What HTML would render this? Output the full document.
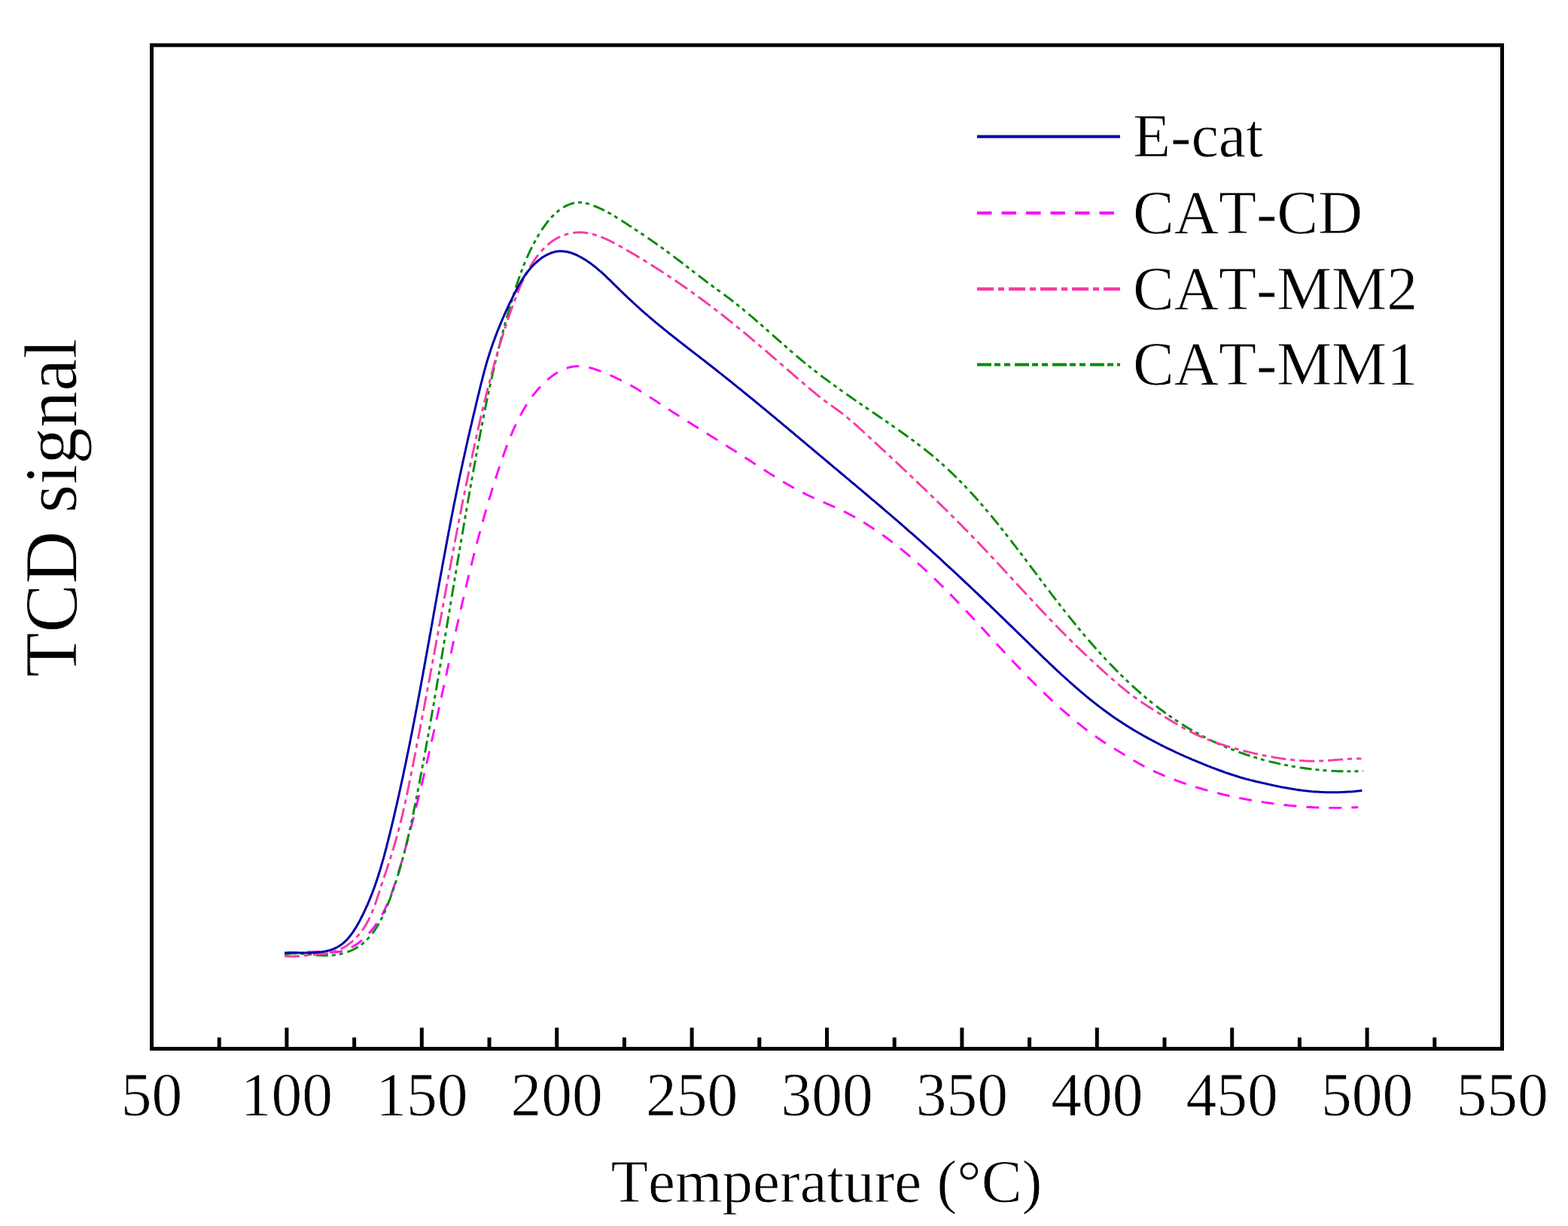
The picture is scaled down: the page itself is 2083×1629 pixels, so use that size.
<!DOCTYPE html>
<html><head><meta charset="utf-8"><title>TCD signal vs Temperature</title>
<style>html,body{margin:0;padding:0;background:#fff;overflow:hidden}svg{display:block}text{fill:#000;stroke:#fff;stroke-width:0.8px;paint-order:fill}</style>
</head><body>
<svg width="2083" height="1629" viewBox="0 0 2083 1629" font-family='"Liberation Serif", "Times New Roman", serif' style="font-kerning:none"><rect x="0" y="0" width="2083" height="1629" fill="#fff"/>
<path d="M378.0,1267.0 L380.8,1266.9 L383.7,1266.8 L386.6,1266.6 L389.5,1266.4 L392.5,1266.2 L395.5,1266.0 L398.6,1265.7 L401.6,1265.5 L404.7,1265.3 L407.8,1265.1 L410.9,1265.0 L414.0,1264.9 L417.1,1264.8 L420.2,1264.8 L423.3,1264.8 L426.4,1264.9 L429.5,1265.1 L432.5,1265.2 L435.6,1265.3 L438.6,1265.3 L441.6,1265.3 L444.6,1265.2 L447.5,1264.9 L450.4,1264.5 L453.3,1264.0 L456.1,1263.3 L458.9,1262.4 L461.6,1261.3 L464.3,1260.2 L466.9,1258.8 L469.5,1257.4 L472.0,1255.8 L474.5,1254.2 L476.9,1252.4 L479.3,1250.5 L481.6,1248.6 L483.9,1246.6 L486.1,1244.5 L488.2,1242.3 L490.2,1240.1 L492.2,1237.8 L494.2,1235.5 L496.0,1233.2 L497.8,1230.8 L499.5,1228.4 L501.2,1226.0 L502.8,1223.5 L504.4,1221.0 L505.8,1218.5 L507.3,1216.0 L508.7,1213.4 L510.0,1210.8 L511.3,1208.2 L512.6,1205.5 L513.8,1202.9 L515.0,1200.2 L516.2,1197.5 L517.3,1194.7 L518.4,1192.0 L519.4,1189.2 L520.4,1186.4 L521.5,1183.6 L522.4,1180.8 L523.4,1178.0 L524.4,1175.1 L525.3,1172.3 L526.2,1169.4 L527.1,1166.5 L528.0,1163.6 L528.9,1160.7 L529.8,1157.8 L530.7,1154.9 L531.5,1152.0 L532.4,1149.1 L533.2,1146.2 L534.1,1143.2 L534.9,1140.3 L535.7,1137.4 L536.5,1134.4 L537.3,1131.5 L538.2,1128.6 L539.0,1125.6 L539.8,1122.7 L540.6,1119.8 L541.3,1116.9 L542.1,1113.9 L542.9,1111.0 L543.7,1108.1 L544.5,1105.1 L545.2,1102.2 L546.0,1099.3 L546.8,1096.4 L547.5,1093.4 L548.3,1090.5 L549.0,1087.6 L549.8,1084.7 L550.5,1081.7 L551.3,1078.8 L552.0,1075.9 L552.7,1072.9 L553.5,1070.0 L554.2,1067.1 L554.9,1064.2 L555.6,1061.2 L556.3,1058.3 L557.1,1055.4 L557.8,1052.5 L558.5,1049.5 L559.2,1046.6 L559.9,1043.7 L560.6,1040.8 L561.3,1037.8 L562.0,1034.9 L562.7,1032.0 L563.3,1029.1 L564.0,1026.2 L564.7,1023.2 L565.4,1020.3 L566.1,1017.4 L566.7,1014.5 L567.4,1011.5 L568.1,1008.6 L568.8,1005.7 L569.4,1002.8 L570.1,999.8 L570.8,996.9 L571.4,994.0 L572.1,991.1 L572.7,988.2 L573.4,985.2 L574.0,982.3 L574.7,979.4 L575.4,976.5 L576.0,973.5 L576.7,970.6 L577.3,967.7 L577.9,964.8 L578.6,961.8 L579.2,958.9 L579.9,956.0 L580.5,953.1 L581.2,950.2 L581.8,947.2 L582.4,944.3 L583.1,941.4 L583.7,938.5 L584.4,935.5 L585.0,932.6 L585.6,929.7 L586.3,926.8 L586.9,923.9 L587.5,920.9 L588.2,918.0 L588.8,915.1 L589.5,912.2 L590.1,909.2 L590.7,906.3 L591.4,903.4 L592.0,900.5 L592.6,897.6 L593.3,894.6 L593.9,891.7 L594.5,888.8 L595.2,885.9 L595.8,882.9 L596.5,880.0 L597.1,877.1 L597.7,874.2 L598.4,871.2 L599.0,868.3 L599.7,865.4 L600.3,862.5 L600.9,859.5 L601.6,856.6 L602.2,853.7 L602.9,850.8 L603.5,847.8 L604.2,844.9 L604.8,842.0 L605.5,839.1 L606.1,836.1 L606.8,833.2 L607.4,830.3 L608.1,827.4 L608.8,824.4 L609.4,821.5 L610.1,818.6 L610.8,815.7 L611.4,812.7 L612.1,809.8 L612.8,806.9 L613.4,804.0 L614.1,801.0 L614.8,798.1 L615.5,795.2 L616.2,792.2 L616.8,789.3 L617.5,786.4 L618.2,783.5 L618.9,780.5 L619.6,777.6 L620.3,774.7 L621.0,771.8 L621.7,768.8 L622.4,765.9 L623.1,763.0 L623.8,760.0 L624.6,757.1 L625.3,754.2 L626.0,751.3 L626.7,748.3 L627.5,745.4 L628.2,742.5 L628.9,739.6 L629.7,736.7 L630.4,733.7 L631.2,730.8 L631.9,727.9 L632.7,725.0 L633.4,722.1 L634.2,719.2 L635.0,716.2 L635.7,713.3 L636.5,710.4 L637.3,707.5 L638.1,704.6 L638.9,701.7 L639.7,698.8 L640.5,695.9 L641.3,693.0 L642.1,690.1 L642.9,687.2 L643.7,684.3 L644.6,681.4 L645.4,678.5 L646.2,675.6 L647.1,672.8 L647.9,669.9 L648.8,667.0 L649.6,664.1 L650.5,661.2 L651.4,658.4 L652.2,655.5 L653.1,652.6 L654.0,649.8 L654.9,646.9 L655.8,644.0 L656.7,641.2 L657.6,638.3 L658.5,635.5 L659.4,632.6 L660.4,629.8 L661.3,626.9 L662.2,624.1 L663.2,621.3 L664.1,618.4 L665.1,615.6 L666.1,612.8 L667.0,609.9 L668.0,607.1 L669.0,604.3 L670.0,601.5 L671.0,598.7 L672.0,595.9 L673.1,593.1 L674.1,590.3 L675.2,587.5 L676.3,584.7 L677.4,582.0 L678.5,579.2 L679.7,576.5 L680.8,573.7 L682.0,571.0 L683.2,568.3 L684.5,565.6 L685.8,562.9 L687.1,560.2 L688.4,557.5 L689.8,554.9 L691.1,552.2 L692.6,549.6 L694.0,547.0 L695.5,544.3 L697.1,541.8 L698.6,539.2 L700.3,536.6 L701.9,534.1 L703.6,531.6 L705.4,529.1 L707.1,526.6 L709.0,524.2 L710.9,521.8 L712.8,519.5 L714.8,517.2 L716.8,514.9 L718.9,512.7 L721.1,510.5 L723.3,508.3 L725.5,506.2 L727.8,504.2 L730.2,502.2 L732.6,500.3 L735.1,498.5 L737.6,496.8 L740.2,495.2 L742.8,493.7 L745.4,492.3 L748.0,491.1 L750.7,490.0 L753.5,489.0 L756.2,488.2 L759.0,487.5 L761.8,487.0 L764.6,486.7 L767.5,486.6 L770.3,486.6 L773.2,486.8 L776.0,487.2 L778.9,487.6 L781.8,488.2 L784.7,488.9 L787.6,489.7 L790.4,490.6 L793.3,491.6 L796.2,492.6 L799.0,493.7 L801.9,494.9 L804.7,496.0 L807.5,497.2 L810.3,498.4 L813.0,499.7 L815.8,500.9 L818.5,502.2 L821.2,503.5 L823.9,504.8 L826.6,506.1 L829.2,507.5 L831.9,508.8 L834.5,510.2 L837.1,511.7 L839.7,513.1 L842.3,514.6 L844.9,516.1 L847.5,517.6 L850.0,519.2 L852.6,520.8 L855.2,522.4 L857.7,524.0 L860.2,525.6 L862.8,527.3 L865.3,528.9 L867.8,530.6 L870.4,532.3 L872.9,533.9 L875.4,535.6 L878.0,537.3 L880.5,538.9 L883.0,540.5 L885.5,542.2 L888.1,543.8 L890.6,545.4 L893.1,547.1 L895.6,548.7 L898.2,550.3 L900.7,551.9 L903.2,553.5 L905.7,555.1 L908.3,556.7 L910.8,558.3 L913.3,559.9 L915.8,561.5 L918.4,563.1 L920.9,564.7 L923.4,566.2 L926.0,567.8 L928.5,569.4 L931.0,571.0 L933.5,572.6 L936.1,574.1 L938.6,575.7 L941.1,577.3 L943.7,578.9 L946.2,580.4 L948.7,582.0 L951.2,583.6 L953.8,585.2 L956.3,586.8 L958.8,588.3 L961.4,589.9 L963.9,591.5 L966.4,593.1 L968.9,594.7 L971.5,596.3 L974.0,597.9 L976.5,599.5 L979.1,601.1 L981.6,602.7 L984.1,604.3 L986.7,605.9 L989.2,607.6 L991.7,609.2 L994.2,610.8 L996.8,612.5 L999.3,614.1 L1001.8,615.8 L1004.4,617.4 L1006.9,619.0 L1009.5,620.7 L1012.0,622.3 L1014.5,624.0 L1017.1,625.6 L1019.6,627.2 L1022.2,628.9 L1024.7,630.5 L1027.3,632.1 L1029.9,633.7 L1032.4,635.3 L1035.0,636.9 L1037.6,638.4 L1040.2,640.0 L1042.7,641.5 L1045.3,643.1 L1047.9,644.6 L1050.5,646.1 L1053.2,647.5 L1055.8,649.0 L1058.4,650.4 L1061.0,651.8 L1063.7,653.2 L1066.3,654.6 L1069.0,655.9 L1071.7,657.2 L1074.4,658.5 L1077.0,659.8 L1079.7,661.0 L1082.4,662.2 L1085.1,663.4 L1087.9,664.6 L1090.6,665.8 L1093.3,667.0 L1096.0,668.2 L1098.7,669.4 L1101.5,670.6 L1104.2,671.8 L1106.9,673.0 L1109.6,674.2 L1112.3,675.5 L1115.1,676.7 L1117.8,678.0 L1120.5,679.3 L1123.2,680.6 L1125.9,682.0 L1128.5,683.4 L1131.2,684.8 L1133.9,686.3 L1136.6,687.8 L1139.2,689.3 L1141.8,690.8 L1144.5,692.4 L1147.1,694.0 L1149.7,695.6 L1152.2,697.2 L1154.8,698.9 L1157.4,700.5 L1159.9,702.2 L1162.4,703.9 L1164.9,705.6 L1167.4,707.3 L1169.9,709.0 L1172.4,710.8 L1174.8,712.5 L1177.3,714.3 L1179.7,716.1 L1182.1,717.9 L1184.5,719.7 L1186.9,721.5 L1189.3,723.3 L1191.6,725.2 L1194.0,727.0 L1196.3,728.9 L1198.6,730.8 L1201.0,732.7 L1203.3,734.6 L1205.6,736.5 L1207.8,738.4 L1210.1,740.4 L1212.4,742.3 L1214.6,744.3 L1216.9,746.2 L1219.1,748.2 L1221.3,750.2 L1223.6,752.2 L1225.8,754.2 L1228.0,756.2 L1230.2,758.2 L1232.3,760.3 L1234.5,762.3 L1236.7,764.4 L1238.9,766.4 L1241.0,768.5 L1243.1,770.5 L1245.3,772.6 L1247.4,774.7 L1249.5,776.8 L1251.7,778.9 L1253.8,781.0 L1255.9,783.1 L1258.0,785.2 L1260.1,787.3 L1262.2,789.5 L1264.3,791.6 L1266.3,793.7 L1268.4,795.9 L1270.5,798.0 L1272.6,800.2 L1274.6,802.4 L1276.7,804.5 L1278.7,806.7 L1280.8,808.9 L1282.8,811.0 L1284.9,813.2 L1286.9,815.4 L1289.0,817.6 L1291.0,819.8 L1293.1,822.0 L1295.1,824.1 L1297.1,826.3 L1299.2,828.5 L1301.2,830.7 L1303.2,832.9 L1305.3,835.1 L1307.3,837.3 L1309.3,839.5 L1311.4,841.8 L1313.4,844.0 L1315.4,846.2 L1317.4,848.4 L1319.5,850.6 L1321.5,852.8 L1323.5,855.0 L1325.6,857.2 L1327.6,859.4 L1329.7,861.6 L1331.7,863.8 L1333.7,866.0 L1335.8,868.2 L1337.8,870.4 L1339.9,872.6 L1341.9,874.8 L1344.0,877.0 L1346.1,879.2 L1348.1,881.4 L1350.2,883.6 L1352.3,885.7 L1354.4,887.9 L1356.4,890.1 L1358.5,892.3 L1360.6,894.4 L1362.7,896.6 L1364.8,898.7 L1366.9,900.9 L1369.0,903.1 L1371.2,905.2 L1373.3,907.3 L1375.4,909.5 L1377.6,911.6 L1379.7,913.7 L1381.9,915.8 L1384.0,917.9 L1386.2,920.0 L1388.4,922.1 L1390.6,924.2 L1392.8,926.3 L1395.0,928.4 L1397.2,930.5 L1399.4,932.5 L1401.6,934.6 L1403.9,936.6 L1406.1,938.7 L1408.4,940.7 L1410.6,942.7 L1412.9,944.7 L1415.2,946.7 L1417.5,948.7 L1419.8,950.7 L1422.1,952.6 L1424.4,954.6 L1426.7,956.5 L1429.1,958.4 L1431.4,960.3 L1433.8,962.2 L1436.1,964.1 L1438.5,965.9 L1440.9,967.8 L1443.3,969.6 L1445.7,971.4 L1448.1,973.2 L1450.5,975.0 L1452.9,976.7 L1455.4,978.4 L1457.8,980.2 L1460.2,981.8 L1462.7,983.5 L1465.2,985.2 L1467.6,986.8 L1470.1,988.4 L1472.6,990.0 L1475.1,991.5 L1477.6,993.1 L1480.1,994.6 L1482.7,996.2 L1485.2,997.7 L1487.7,999.3 L1490.3,1000.8 L1492.8,1002.4 L1495.4,1004.0 L1498.0,1005.6 L1500.6,1007.2 L1503.2,1008.7 L1505.8,1010.3 L1508.4,1011.8 L1511.0,1013.3 L1513.6,1014.8 L1516.2,1016.2 L1518.9,1017.6 L1521.5,1019.0 L1524.2,1020.4 L1526.9,1021.7 L1529.5,1023.0 L1532.2,1024.3 L1534.9,1025.6 L1537.6,1026.8 L1540.3,1028.0 L1543.0,1029.2 L1545.7,1030.4 L1548.5,1031.5 L1551.2,1032.6 L1553.9,1033.7 L1556.7,1034.8 L1559.5,1035.9 L1562.2,1036.9 L1565.0,1037.9 L1567.8,1038.9 L1570.6,1039.9 L1573.4,1040.9 L1576.2,1041.8 L1579.0,1042.8 L1581.8,1043.7 L1584.7,1044.6 L1587.5,1045.5 L1590.3,1046.3 L1593.2,1047.2 L1596.1,1048.0 L1598.9,1048.9 L1601.8,1049.7 L1604.7,1050.5 L1607.6,1051.3 L1610.5,1052.0 L1613.4,1052.8 L1616.3,1053.5 L1619.2,1054.2 L1622.1,1055.0 L1625.0,1055.7 L1628.0,1056.3 L1630.9,1057.0 L1633.9,1057.7 L1636.8,1058.3 L1639.8,1059.0 L1642.7,1059.6 L1645.7,1060.2 L1648.6,1060.8 L1651.6,1061.3 L1654.6,1061.9 L1657.6,1062.5 L1660.6,1063.0 L1663.5,1063.5 L1666.5,1064.0 L1669.5,1064.5 L1672.5,1065.0 L1675.5,1065.5 L1678.5,1065.9 L1681.5,1066.4 L1684.5,1066.8 L1687.5,1067.2 L1690.5,1067.6 L1693.5,1068.0 L1696.5,1068.4 L1699.5,1068.8 L1702.6,1069.1 L1705.6,1069.5 L1708.6,1069.8 L1711.6,1070.1 L1714.6,1070.4 L1717.6,1070.7 L1720.6,1071.0 L1723.6,1071.3 L1726.7,1071.5 L1729.7,1071.8 L1732.7,1072.0 L1735.7,1072.2 L1738.7,1072.4 L1741.7,1072.5 L1744.7,1072.7 L1747.7,1072.9 L1750.7,1073.0 L1753.7,1073.1 L1756.7,1073.2 L1759.7,1073.3 L1762.7,1073.3 L1765.7,1073.4 L1768.7,1073.4 L1771.6,1073.4 L1774.6,1073.4 L1777.6,1073.4 L1780.6,1073.4 L1783.5,1073.3 L1786.5,1073.3 L1789.4,1073.2 L1792.4,1073.1 L1795.3,1073.0 L1798.3,1072.8 L1801.2,1072.7 L1804.2,1072.5" fill="none" stroke="#ff00ff" stroke-width="2.9" stroke-linejoin="round" stroke-dasharray="17,13"/>
<path d="M378.0,1268.0 L380.9,1267.6 L383.8,1267.2 L386.8,1267.0 L389.7,1266.9 L392.7,1266.9 L395.6,1267.0 L398.6,1267.1 L401.6,1267.3 L404.6,1267.6 L407.6,1267.8 L410.7,1268.1 L413.7,1268.4 L416.7,1268.7 L419.8,1269.0 L422.8,1269.2 L425.9,1269.4 L429.0,1269.5 L432.1,1269.6 L435.1,1269.5 L438.2,1269.4 L441.3,1269.2 L444.4,1268.9 L447.4,1268.4 L450.5,1267.9 L453.5,1267.3 L456.4,1266.5 L459.3,1265.7 L462.2,1264.7 L465.0,1263.6 L467.7,1262.5 L470.3,1261.2 L472.9,1259.8 L475.3,1258.3 L477.7,1256.8 L480.0,1255.1 L482.3,1253.3 L484.4,1251.5 L486.5,1249.5 L488.5,1247.5 L490.4,1245.4 L492.3,1243.3 L494.1,1241.0 L495.9,1238.7 L497.6,1236.4 L499.2,1233.9 L500.8,1231.5 L502.3,1228.9 L503.8,1226.3 L505.2,1223.7 L506.6,1221.0 L508.0,1218.3 L509.3,1215.6 L510.5,1212.8 L511.8,1210.0 L513.0,1207.2 L514.1,1204.4 L515.3,1201.5 L516.4,1198.6 L517.5,1195.8 L518.6,1192.9 L519.6,1190.0 L520.7,1187.1 L521.7,1184.2 L522.7,1181.3 L523.7,1178.4 L524.6,1175.5 L525.6,1172.6 L526.5,1169.7 L527.4,1166.9 L528.3,1164.0 L529.2,1161.1 L530.1,1158.2 L530.9,1155.3 L531.8,1152.3 L532.6,1149.4 L533.4,1146.5 L534.2,1143.6 L535.0,1140.7 L535.8,1137.8 L536.6,1134.9 L537.3,1132.0 L538.1,1129.1 L538.8,1126.2 L539.5,1123.3 L540.2,1120.3 L540.9,1117.4 L541.6,1114.5 L542.3,1111.6 L543.0,1108.7 L543.7,1105.7 L544.3,1102.8 L545.0,1099.9 L545.6,1097.0 L546.3,1094.1 L546.9,1091.1 L547.5,1088.2 L548.1,1085.3 L548.7,1082.3 L549.3,1079.4 L549.9,1076.5 L550.5,1073.6 L551.1,1070.6 L551.7,1067.7 L552.3,1064.8 L552.9,1061.8 L553.5,1058.9 L554.0,1056.0 L554.6,1053.0 L555.2,1050.1 L555.7,1047.2 L556.3,1044.2 L556.9,1041.3 L557.4,1038.3 L558.0,1035.4 L558.5,1032.5 L559.1,1029.5 L559.7,1026.6 L560.2,1023.6 L560.8,1020.7 L561.3,1017.7 L561.9,1014.8 L562.4,1011.8 L563.0,1008.9 L563.5,1006.0 L564.0,1003.0 L564.6,1000.1 L565.1,997.1 L565.7,994.2 L566.2,991.2 L566.7,988.3 L567.3,985.3 L567.8,982.4 L568.3,979.4 L568.9,976.5 L569.4,973.5 L569.9,970.6 L570.4,967.6 L571.0,964.6 L571.5,961.7 L572.0,958.7 L572.5,955.8 L573.1,952.8 L573.6,949.9 L574.1,946.9 L574.6,944.0 L575.1,941.0 L575.6,938.0 L576.2,935.1 L576.7,932.1 L577.2,929.2 L577.7,926.2 L578.2,923.3 L578.7,920.3 L579.2,917.3 L579.7,914.4 L580.2,911.4 L580.7,908.5 L581.2,905.5 L581.8,902.5 L582.3,899.6 L582.8,896.6 L583.3,893.7 L583.8,890.7 L584.3,887.7 L584.8,884.8 L585.3,881.8 L585.8,878.9 L586.3,875.9 L586.8,872.9 L587.3,870.0 L587.8,867.0 L588.3,864.1 L588.8,861.1 L589.3,858.1 L589.7,855.2 L590.2,852.2 L590.7,849.2 L591.2,846.3 L591.7,843.3 L592.2,840.4 L592.7,837.4 L593.2,834.4 L593.7,831.5 L594.2,828.5 L594.7,825.6 L595.2,822.6 L595.7,819.6 L596.2,816.7 L596.7,813.7 L597.2,810.7 L597.7,807.8 L598.1,804.8 L598.6,801.9 L599.1,798.9 L599.6,795.9 L600.1,793.0 L600.6,790.0 L601.1,787.1 L601.6,784.1 L602.1,781.1 L602.6,778.2 L603.1,775.2 L603.6,772.3 L604.1,769.3 L604.6,766.3 L605.1,763.4 L605.6,760.4 L606.1,757.5 L606.6,754.5 L607.0,751.5 L607.5,748.6 L608.0,745.6 L608.5,742.6 L609.0,739.7 L609.5,736.7 L610.0,733.8 L610.5,730.8 L611.0,727.8 L611.5,724.9 L612.0,721.9 L612.5,719.0 L613.1,716.0 L613.6,713.1 L614.1,710.1 L614.6,707.1 L615.1,704.2 L615.6,701.2 L616.1,698.3 L616.6,695.3 L617.1,692.3 L617.6,689.4 L618.1,686.4 L618.6,683.5 L619.2,680.5 L619.7,677.5 L620.2,674.6 L620.7,671.6 L621.2,668.7 L621.7,665.7 L622.2,662.8 L622.8,659.8 L623.3,656.8 L623.8,653.9 L624.3,650.9 L624.9,648.0 L625.4,645.0 L625.9,642.1 L626.4,639.1 L627.0,636.1 L627.5,633.2 L628.0,630.2 L628.6,627.3 L629.1,624.3 L629.6,621.4 L630.2,618.4 L630.7,615.5 L631.3,612.5 L631.8,609.5 L632.3,606.6 L632.9,603.6 L633.4,600.7 L634.0,597.7 L634.5,594.8 L635.1,591.8 L635.6,588.9 L636.2,585.9 L636.7,583.0 L637.3,580.0 L637.9,577.1 L638.4,574.1 L639.0,571.2 L639.6,568.2 L640.1,565.3 L640.7,562.3 L641.3,559.4 L641.9,556.4 L642.5,553.5 L643.1,550.5 L643.6,547.6 L644.2,544.6 L644.8,541.7 L645.4,538.7 L646.0,535.8 L646.6,532.9 L647.3,529.9 L647.9,527.0 L648.5,524.0 L649.1,521.1 L649.7,518.2 L650.4,515.2 L651.0,512.3 L651.6,509.4 L652.3,506.4 L652.9,503.5 L653.6,500.6 L654.2,497.6 L654.9,494.7 L655.6,491.8 L656.2,488.9 L656.9,485.9 L657.6,483.0 L658.3,480.1 L659.0,477.2 L659.7,474.3 L660.4,471.4 L661.1,468.4 L661.8,465.5 L662.5,462.6 L663.2,459.7 L664.0,456.8 L664.7,453.9 L665.5,451.0 L666.2,448.1 L667.0,445.2 L667.7,442.3 L668.5,439.4 L669.3,436.5 L670.0,433.6 L670.8,430.7 L671.6,427.8 L672.4,424.9 L673.2,422.1 L674.0,419.2 L674.8,416.3 L675.7,413.4 L676.5,410.5 L677.4,407.7 L678.2,404.8 L679.1,401.9 L679.9,399.0 L680.8,396.2 L681.7,393.3 L682.6,390.5 L683.4,387.6 L684.4,384.7 L685.3,381.9 L686.2,379.0 L687.1,376.2 L688.1,373.4 L689.1,370.5 L690.1,367.7 L691.1,364.9 L692.1,362.1 L693.2,359.3 L694.2,356.5 L695.3,353.7 L696.4,350.9 L697.6,348.1 L698.7,345.4 L699.9,342.6 L701.1,339.9 L702.4,337.2 L703.6,334.4 L704.9,331.7 L706.3,329.0 L707.6,326.4 L709.0,323.7 L710.5,321.0 L711.9,318.4 L713.4,315.7 L715.0,313.1 L716.6,310.5 L718.2,307.9 L719.8,305.4 L721.5,302.8 L723.3,300.3 L725.1,297.9 L726.9,295.4 L728.8,293.1 L730.8,290.8 L732.8,288.5 L734.9,286.4 L737.0,284.3 L739.2,282.3 L741.5,280.4 L743.9,278.6 L746.3,276.9 L748.8,275.3 L751.4,273.9 L754.0,272.6 L756.7,271.5 L759.5,270.5 L762.3,269.8 L765.2,269.3 L768.0,269.0 L770.9,268.9 L773.8,269.2 L776.7,269.7 L779.6,270.4 L782.5,271.2 L785.4,272.2 L788.2,273.2 L791.0,274.3 L793.8,275.4 L796.6,276.7 L799.3,277.9 L802.0,279.3 L804.7,280.7 L807.4,282.1 L810.1,283.6 L812.7,285.1 L815.4,286.6 L818.0,288.2 L820.6,289.8 L823.2,291.4 L825.7,293.1 L828.3,294.7 L830.8,296.4 L833.3,298.0 L835.8,299.7 L838.3,301.3 L840.8,302.9 L843.3,304.6 L845.8,306.2 L848.3,307.9 L850.7,309.5 L853.2,311.1 L855.6,312.8 L858.1,314.4 L860.5,316.1 L862.9,317.7 L865.4,319.4 L867.8,321.1 L870.2,322.8 L872.6,324.5 L875.0,326.2 L877.5,327.9 L879.9,329.7 L882.3,331.4 L884.7,333.2 L887.2,335.0 L889.6,336.8 L892.0,338.6 L894.4,340.4 L896.9,342.3 L899.3,344.1 L901.7,346.0 L904.2,347.8 L906.6,349.7 L909.0,351.6 L911.4,353.5 L913.9,355.3 L916.3,357.2 L918.7,359.1 L921.1,360.9 L923.6,362.8 L926.0,364.7 L928.4,366.5 L930.8,368.4 L933.2,370.2 L935.6,372.0 L938.0,373.9 L940.4,375.7 L942.8,377.5 L945.2,379.2 L947.6,381.0 L950.0,382.7 L952.4,384.5 L954.8,386.2 L957.1,388.0 L959.5,389.7 L961.9,391.4 L964.2,393.2 L966.6,394.9 L968.9,396.7 L971.3,398.5 L973.6,400.3 L975.9,402.1 L978.2,403.9 L980.5,405.7 L982.9,407.6 L985.2,409.5 L987.5,411.4 L989.7,413.3 L992.0,415.2 L994.3,417.1 L996.6,419.0 L998.9,421.0 L1001.2,422.9 L1003.4,424.9 L1005.7,426.9 L1008.0,428.8 L1010.2,430.8 L1012.5,432.8 L1014.8,434.8 L1017.0,436.8 L1019.3,438.8 L1021.5,440.8 L1023.8,442.8 L1026.1,444.9 L1028.3,446.9 L1030.6,448.9 L1032.8,450.9 L1035.1,452.9 L1037.4,454.9 L1039.6,456.9 L1041.9,458.9 L1044.2,460.9 L1046.5,462.9 L1048.7,464.9 L1051.0,466.9 L1053.3,468.8 L1055.6,470.8 L1057.9,472.8 L1060.2,474.7 L1062.5,476.6 L1064.8,478.6 L1067.1,480.5 L1069.4,482.4 L1071.8,484.2 L1074.1,486.1 L1076.4,488.0 L1078.8,489.8 L1081.1,491.7 L1083.5,493.5 L1085.8,495.3 L1088.2,497.2 L1090.5,499.0 L1092.9,500.8 L1095.3,502.6 L1097.7,504.3 L1100.1,506.1 L1102.5,507.9 L1104.9,509.6 L1107.3,511.4 L1109.7,513.1 L1112.1,514.9 L1114.5,516.6 L1116.9,518.4 L1119.4,520.1 L1121.8,521.8 L1124.2,523.5 L1126.7,525.2 L1129.1,527.0 L1131.6,528.7 L1134.0,530.4 L1136.5,532.1 L1138.9,533.8 L1141.4,535.5 L1143.9,537.2 L1146.4,538.9 L1148.8,540.6 L1151.3,542.3 L1153.8,544.0 L1156.3,545.7 L1158.8,547.4 L1161.3,549.1 L1163.8,550.8 L1166.3,552.5 L1168.8,554.2 L1171.3,555.9 L1173.8,557.6 L1176.3,559.3 L1178.8,561.0 L1181.3,562.8 L1183.8,564.5 L1186.3,566.2 L1188.8,568.0 L1191.3,569.7 L1193.8,571.4 L1196.3,573.2 L1198.7,575.0 L1201.2,576.7 L1203.7,578.5 L1206.1,580.3 L1208.6,582.1 L1211.0,583.9 L1213.5,585.7 L1215.9,587.5 L1218.3,589.3 L1220.7,591.1 L1223.1,593.0 L1225.5,594.8 L1227.9,596.7 L1230.2,598.5 L1232.6,600.4 L1234.9,602.3 L1237.2,604.2 L1239.6,606.2 L1241.9,608.1 L1244.1,610.0 L1246.4,612.0 L1248.7,614.0 L1250.9,615.9 L1253.1,617.9 L1255.3,619.9 L1257.5,622.0 L1259.7,624.0 L1261.9,626.0 L1264.0,628.1 L1266.2,630.2 L1268.3,632.2 L1270.4,634.3 L1272.5,636.4 L1274.6,638.5 L1276.7,640.6 L1278.8,642.8 L1280.9,644.9 L1282.9,647.1 L1284.9,649.2 L1287.0,651.4 L1289.0,653.6 L1291.0,655.7 L1293.0,657.9 L1295.0,660.1 L1297.0,662.4 L1299.0,664.6 L1300.9,666.8 L1302.9,669.0 L1304.8,671.3 L1306.8,673.5 L1308.7,675.8 L1310.6,678.1 L1312.5,680.3 L1314.4,682.6 L1316.3,684.9 L1318.2,687.2 L1320.1,689.5 L1322.0,691.8 L1323.9,694.1 L1325.8,696.4 L1327.6,698.8 L1329.5,701.1 L1331.3,703.4 L1333.2,705.8 L1335.0,708.1 L1336.9,710.5 L1338.7,712.8 L1340.6,715.2 L1342.4,717.5 L1344.2,719.9 L1346.0,722.3 L1347.9,724.6 L1349.7,727.0 L1351.5,729.4 L1353.3,731.8 L1355.1,734.2 L1356.9,736.5 L1358.7,738.9 L1360.6,741.3 L1362.4,743.7 L1364.2,746.1 L1366.0,748.5 L1367.8,750.9 L1369.6,753.3 L1371.4,755.7 L1373.2,758.1 L1375.0,760.5 L1376.8,762.9 L1378.6,765.3 L1380.4,767.7 L1382.3,770.2 L1384.1,772.6 L1385.9,775.0 L1387.7,777.4 L1389.5,779.8 L1391.3,782.2 L1393.2,784.6 L1395.0,787.0 L1396.8,789.4 L1398.7,791.8 L1400.5,794.2 L1402.4,796.6 L1404.2,799.0 L1406.1,801.4 L1407.9,803.7 L1409.8,806.1 L1411.7,808.5 L1413.5,810.9 L1415.4,813.3 L1417.3,815.6 L1419.2,818.0 L1421.1,820.4 L1423.0,822.7 L1424.9,825.1 L1426.8,827.4 L1428.7,829.8 L1430.6,832.1 L1432.5,834.5 L1434.5,836.8 L1436.4,839.1 L1438.4,841.4 L1440.3,843.8 L1442.3,846.1 L1444.2,848.4 L1446.2,850.7 L1448.2,852.9 L1450.2,855.2 L1452.1,857.5 L1454.1,859.8 L1456.1,862.0 L1458.2,864.3 L1460.2,866.5 L1462.2,868.7 L1464.2,871.0 L1466.3,873.2 L1468.3,875.4 L1470.4,877.6 L1472.4,879.8 L1474.5,882.0 L1476.6,884.1 L1478.7,886.3 L1480.8,888.4 L1482.9,890.6 L1485.0,892.7 L1487.1,894.8 L1489.2,896.9 L1491.4,899.0 L1493.5,901.1 L1495.7,903.2 L1497.9,905.3 L1500.0,907.3 L1502.2,909.4 L1504.4,911.4 L1506.6,913.4 L1508.8,915.4 L1511.1,917.4 L1513.3,919.4 L1515.5,921.3 L1517.8,923.3 L1520.1,925.2 L1522.3,927.1 L1524.6,929.0 L1526.9,930.9 L1529.2,932.8 L1531.5,934.7 L1533.9,936.5 L1536.2,938.3 L1538.6,940.2 L1540.9,942.0 L1543.3,943.7 L1545.7,945.5 L1548.1,947.3 L1550.5,949.0 L1552.9,950.7 L1555.3,952.4 L1557.8,954.1 L1560.2,955.8 L1562.7,957.4 L1565.2,959.1 L1567.7,960.7 L1570.2,962.3 L1572.7,963.9 L1575.2,965.4 L1577.7,967.0 L1580.3,968.5 L1582.9,970.0 L1585.4,971.5 L1588.0,973.0 L1590.7,974.4 L1593.3,975.8 L1595.9,977.3 L1598.6,978.6 L1601.2,980.0 L1603.9,981.4 L1606.6,982.7 L1609.3,984.0 L1612.0,985.3 L1614.7,986.5 L1617.4,987.8 L1620.2,989.0 L1622.9,990.2 L1625.7,991.4 L1628.5,992.6 L1631.3,993.7 L1634.1,994.8 L1636.9,995.9 L1639.7,997.0 L1642.5,998.1 L1645.4,999.1 L1648.2,1000.2 L1651.1,1001.2 L1653.9,1002.1 L1656.8,1003.1 L1659.7,1004.0 L1662.6,1005.0 L1665.5,1005.9 L1668.4,1006.7 L1671.3,1007.6 L1674.2,1008.4 L1677.1,1009.3 L1680.0,1010.1 L1683.0,1010.8 L1685.9,1011.6 L1688.8,1012.3 L1691.8,1013.0 L1694.7,1013.7 L1697.7,1014.4 L1700.7,1015.1 L1703.6,1015.7 L1706.6,1016.3 L1709.6,1016.9 L1712.6,1017.5 L1715.5,1018.0 L1718.5,1018.5 L1721.5,1019.0 L1724.5,1019.5 L1727.5,1020.0 L1730.5,1020.4 L1733.5,1020.8 L1736.5,1021.3 L1739.4,1021.6 L1742.4,1022.0 L1745.4,1022.3 L1748.4,1022.6 L1751.4,1022.9 L1754.4,1023.2 L1757.4,1023.5 L1760.4,1023.7 L1763.4,1023.9 L1766.4,1024.1 L1769.4,1024.3 L1772.4,1024.4 L1775.4,1024.6 L1778.4,1024.7 L1781.3,1024.8 L1784.3,1024.8 L1787.3,1024.9 L1790.3,1024.9 L1793.2,1024.9 L1796.2,1024.9 L1799.2,1024.8 L1802.1,1024.8 L1805.1,1024.7 L1808.0,1024.6 L1811.0,1024.4" fill="none" stroke="#008c00" stroke-width="2.9" stroke-linejoin="round" stroke-dasharray="16,5,5,5,5,6"/>
<path d="M378.0,1270.0 L380.9,1270.5 L383.8,1270.8 L386.8,1270.9 L389.7,1270.9 L392.7,1270.7 L395.7,1270.5 L398.7,1270.2 L401.7,1269.9 L404.7,1269.6 L407.8,1269.3 L410.8,1269.0 L413.9,1268.7 L416.9,1268.5 L420.0,1268.3 L423.0,1268.0 L426.1,1267.7 L429.1,1267.4 L432.1,1266.9 L435.0,1266.5 L438.0,1265.9 L440.9,1265.2 L443.7,1264.4 L446.5,1263.5 L449.3,1262.5 L452.0,1261.3 L454.7,1259.9 L457.3,1258.5 L459.9,1256.9 L462.4,1255.2 L464.8,1253.4 L467.1,1251.5 L469.4,1249.5 L471.6,1247.5 L473.7,1245.3 L475.7,1243.1 L477.6,1240.9 L479.5,1238.6 L481.2,1236.2 L482.9,1233.8 L484.5,1231.4 L486.0,1228.9 L487.5,1226.3 L488.9,1223.8 L490.2,1221.2 L491.5,1218.5 L492.7,1215.8 L493.8,1213.1 L495.0,1210.4 L496.1,1207.6 L497.1,1204.9 L498.1,1202.0 L499.1,1199.2 L500.1,1196.4 L501.1,1193.5 L502.0,1190.7 L503.0,1187.8 L503.9,1184.9 L504.8,1182.1 L505.8,1179.2 L506.7,1176.3 L507.7,1173.4 L508.6,1170.5 L509.6,1167.6 L510.5,1164.8 L511.5,1161.9 L512.5,1159.0 L513.4,1156.1 L514.4,1153.2 L515.3,1150.3 L516.3,1147.4 L517.2,1144.5 L518.1,1141.6 L519.1,1138.7 L520.0,1135.8 L520.9,1132.9 L521.8,1130.0 L522.7,1127.1 L523.5,1124.2 L524.4,1121.3 L525.2,1118.4 L526.1,1115.5 L526.9,1112.6 L527.7,1109.7 L528.5,1106.8 L529.3,1103.9 L530.0,1101.0 L530.8,1098.1 L531.5,1095.2 L532.2,1092.3 L533.0,1089.4 L533.7,1086.5 L534.4,1083.6 L535.0,1080.7 L535.7,1077.7 L536.4,1074.8 L537.1,1071.9 L537.7,1069.0 L538.4,1066.1 L539.0,1063.2 L539.6,1060.3 L540.2,1057.3 L540.9,1054.4 L541.5,1051.5 L542.1,1048.6 L542.7,1045.7 L543.3,1042.7 L543.9,1039.8 L544.5,1036.9 L545.1,1034.0 L545.7,1031.1 L546.2,1028.1 L546.8,1025.2 L547.4,1022.3 L548.0,1019.4 L548.6,1016.4 L549.2,1013.5 L549.7,1010.6 L550.3,1007.6 L550.9,1004.7 L551.5,1001.8 L552.0,998.9 L552.6,995.9 L553.2,993.0 L553.7,990.1 L554.3,987.1 L554.9,984.2 L555.5,981.3 L556.0,978.3 L556.6,975.4 L557.2,972.5 L557.7,969.5 L558.3,966.6 L558.8,963.6 L559.4,960.7 L560.0,957.8 L560.5,954.8 L561.1,951.9 L561.7,949.0 L562.2,946.0 L562.8,943.1 L563.3,940.1 L563.9,937.2 L564.4,934.3 L565.0,931.3 L565.6,928.4 L566.1,925.4 L566.7,922.5 L567.2,919.5 L567.8,916.6 L568.3,913.6 L568.9,910.7 L569.4,907.8 L570.0,904.8 L570.5,901.9 L571.1,898.9 L571.6,896.0 L572.2,893.0 L572.7,890.1 L573.3,887.1 L573.8,884.2 L574.4,881.2 L574.9,878.3 L575.5,875.3 L576.0,872.4 L576.6,869.4 L577.1,866.5 L577.6,863.5 L578.2,860.6 L578.7,857.6 L579.3,854.7 L579.8,851.7 L580.4,848.8 L580.9,845.8 L581.5,842.9 L582.0,839.9 L582.6,837.0 L583.1,834.0 L583.6,831.0 L584.2,828.1 L584.7,825.1 L585.3,822.2 L585.8,819.2 L586.4,816.3 L586.9,813.3 L587.5,810.4 L588.0,807.4 L588.6,804.5 L589.1,801.5 L589.6,798.5 L590.2,795.6 L590.7,792.6 L591.3,789.7 L591.8,786.7 L592.4,783.8 L592.9,780.8 L593.5,777.8 L594.0,774.9 L594.6,771.9 L595.1,769.0 L595.7,766.0 L596.2,763.1 L596.8,760.1 L597.3,757.1 L597.9,754.2 L598.4,751.2 L599.0,748.3 L599.5,745.3 L600.1,742.4 L600.6,739.4 L601.2,736.4 L601.8,733.5 L602.3,730.5 L602.9,727.6 L603.4,724.6 L604.0,721.7 L604.6,718.7 L605.1,715.8 L605.7,712.8 L606.3,709.8 L606.8,706.9 L607.4,703.9 L608.0,701.0 L608.5,698.0 L609.1,695.1 L609.7,692.1 L610.2,689.2 L610.8,686.2 L611.4,683.3 L612.0,680.3 L612.6,677.4 L613.1,674.4 L613.7,671.5 L614.3,668.5 L614.9,665.6 L615.5,662.6 L616.1,659.7 L616.7,656.7 L617.3,653.8 L617.9,650.9 L618.5,647.9 L619.1,645.0 L619.7,642.0 L620.3,639.1 L620.9,636.1 L621.5,633.2 L622.1,630.3 L622.7,627.3 L623.3,624.4 L623.9,621.5 L624.6,618.5 L625.2,615.6 L625.8,612.7 L626.4,609.7 L627.1,606.8 L627.7,603.9 L628.3,600.9 L629.0,598.0 L629.6,595.1 L630.2,592.1 L630.9,589.2 L631.5,586.3 L632.2,583.4 L632.8,580.4 L633.5,577.5 L634.1,574.6 L634.8,571.7 L635.4,568.8 L636.1,565.8 L636.8,562.9 L637.4,560.0 L638.1,557.1 L638.8,554.2 L639.5,551.3 L640.2,548.4 L640.8,545.4 L641.5,542.5 L642.2,539.6 L642.9,536.7 L643.6,533.8 L644.3,530.9 L645.1,528.0 L645.8,525.1 L646.5,522.2 L647.2,519.3 L647.9,516.4 L648.7,513.5 L649.4,510.6 L650.2,507.8 L650.9,504.9 L651.7,502.0 L652.4,499.1 L653.2,496.2 L654.0,493.3 L654.8,490.4 L655.6,487.6 L656.3,484.7 L657.1,481.8 L657.9,478.9 L658.8,476.0 L659.6,473.2 L660.4,470.3 L661.2,467.4 L662.1,464.6 L662.9,461.7 L663.8,458.8 L664.6,456.0 L665.5,453.1 L666.4,450.3 L667.3,447.4 L668.2,444.6 L669.1,441.7 L670.0,438.8 L670.9,436.0 L671.8,433.2 L672.8,430.3 L673.7,427.5 L674.7,424.6 L675.6,421.8 L676.6,418.9 L677.6,416.1 L678.6,413.3 L679.6,410.4 L680.6,407.6 L681.6,404.8 L682.7,402.0 L683.7,399.1 L684.8,396.3 L685.8,393.5 L686.9,390.7 L688.0,387.9 L689.2,385.1 L690.3,382.4 L691.5,379.6 L692.7,376.8 L694.0,374.1 L695.3,371.4 L696.6,368.6 L697.9,366.0 L699.3,363.3 L700.7,360.6 L702.2,358.0 L703.7,355.3 L705.3,352.7 L706.9,350.2 L708.5,347.6 L710.2,345.1 L712.0,342.6 L713.8,340.2 L715.7,337.8 L717.6,335.5 L719.6,333.2 L721.6,331.0 L723.7,328.8 L725.8,326.8 L728.1,324.8 L730.4,322.9 L732.7,321.2 L735.1,319.5 L737.6,317.9 L740.2,316.4 L742.8,315.1 L745.5,313.8 L748.2,312.7 L751.0,311.8 L753.9,310.9 L756.8,310.2 L759.7,309.6 L762.6,309.2 L765.6,308.9 L768.5,308.7 L771.5,308.7 L774.5,308.9 L777.5,309.2 L780.4,309.6 L783.4,310.2 L786.3,310.8 L789.1,311.6 L792.0,312.5 L794.8,313.4 L797.6,314.5 L800.4,315.5 L803.1,316.7 L805.9,317.9 L808.6,319.2 L811.3,320.5 L814.0,321.9 L816.6,323.3 L819.3,324.8 L821.9,326.2 L824.5,327.7 L827.2,329.2 L829.8,330.7 L832.4,332.2 L835.0,333.7 L837.6,335.2 L840.2,336.7 L842.8,338.3 L845.4,339.8 L848.0,341.4 L850.5,342.9 L853.1,344.5 L855.7,346.0 L858.2,347.6 L860.8,349.2 L863.3,350.8 L865.9,352.4 L868.4,354.0 L870.9,355.6 L873.4,357.2 L876.0,358.8 L878.5,360.5 L881.0,362.1 L883.5,363.7 L886.0,365.4 L888.5,367.0 L891.0,368.7 L893.4,370.4 L895.9,372.0 L898.4,373.7 L900.9,375.4 L903.3,377.1 L905.8,378.8 L908.2,380.5 L910.7,382.2 L913.1,384.0 L915.6,385.7 L918.0,387.4 L920.4,389.2 L922.9,390.9 L925.3,392.7 L927.7,394.4 L930.1,396.2 L932.5,398.0 L934.9,399.7 L937.3,401.5 L939.7,403.3 L942.1,405.1 L944.5,406.9 L946.9,408.7 L949.2,410.6 L951.6,412.4 L954.0,414.2 L956.4,416.0 L958.7,417.9 L961.1,419.7 L963.4,421.6 L965.8,423.5 L968.1,425.3 L970.5,427.2 L972.8,429.1 L975.1,431.0 L977.5,432.9 L979.8,434.8 L982.1,436.7 L984.4,438.6 L986.8,440.5 L989.1,442.4 L991.4,444.3 L993.7,446.2 L996.0,448.2 L998.3,450.1 L1000.6,452.1 L1002.9,454.0 L1005.2,455.9 L1007.5,457.9 L1009.8,459.8 L1012.1,461.8 L1014.4,463.8 L1016.7,465.7 L1019.0,467.7 L1021.3,469.7 L1023.5,471.6 L1025.8,473.6 L1028.1,475.6 L1030.4,477.5 L1032.7,479.5 L1035.0,481.5 L1037.3,483.5 L1039.6,485.5 L1041.8,487.4 L1044.1,489.4 L1046.4,491.4 L1048.7,493.4 L1051.0,495.4 L1053.3,497.3 L1055.6,499.3 L1057.9,501.3 L1060.2,503.3 L1062.5,505.2 L1064.8,507.2 L1067.1,509.2 L1069.4,511.1 L1071.7,513.1 L1074.0,515.1 L1076.3,517.0 L1078.6,518.9 L1080.9,520.8 L1083.2,522.7 L1085.5,524.6 L1087.8,526.5 L1090.1,528.3 L1092.4,530.1 L1094.7,531.8 L1097.0,533.6 L1099.4,535.2 L1101.7,536.9 L1104.0,538.6 L1106.3,540.2 L1108.6,541.9 L1110.9,543.5 L1113.2,545.2 L1115.5,546.9 L1117.8,548.6 L1120.1,550.4 L1122.4,552.2 L1124.7,554.1 L1127.0,556.0 L1129.3,557.9 L1131.6,559.9 L1133.9,561.9 L1136.2,563.9 L1138.5,565.9 L1140.7,568.0 L1143.0,570.1 L1145.3,572.1 L1147.6,574.2 L1149.8,576.3 L1152.1,578.4 L1154.4,580.5 L1156.6,582.6 L1158.9,584.7 L1161.1,586.8 L1163.4,588.8 L1165.6,590.9 L1167.9,593.0 L1170.1,595.1 L1172.3,597.2 L1174.6,599.2 L1176.8,601.3 L1179.0,603.4 L1181.2,605.4 L1183.5,607.5 L1185.7,609.6 L1187.9,611.7 L1190.1,613.7 L1192.3,615.8 L1194.5,617.8 L1196.7,619.9 L1198.9,622.0 L1201.1,624.0 L1203.3,626.1 L1205.5,628.2 L1207.7,630.2 L1209.8,632.3 L1212.0,634.4 L1214.2,636.4 L1216.4,638.5 L1218.5,640.6 L1220.7,642.6 L1222.8,644.7 L1225.0,646.8 L1227.2,648.8 L1229.3,650.9 L1231.5,653.0 L1233.6,655.0 L1235.8,657.1 L1237.9,659.2 L1240.0,661.3 L1242.2,663.3 L1244.3,665.4 L1246.4,667.5 L1248.6,669.6 L1250.7,671.6 L1252.8,673.7 L1254.9,675.8 L1257.1,677.9 L1259.2,680.0 L1261.3,682.1 L1263.4,684.2 L1265.5,686.3 L1267.6,688.4 L1269.7,690.5 L1271.8,692.6 L1273.9,694.7 L1276.0,696.8 L1278.1,698.9 L1280.2,701.1 L1282.3,703.2 L1284.4,705.3 L1286.4,707.4 L1288.5,709.6 L1290.6,711.7 L1292.7,713.9 L1294.8,716.0 L1296.8,718.1 L1298.9,720.3 L1301.0,722.5 L1303.0,724.6 L1305.1,726.8 L1307.2,729.0 L1309.2,731.1 L1311.3,733.3 L1313.3,735.5 L1315.4,737.7 L1317.4,739.9 L1319.5,742.0 L1321.6,744.2 L1323.6,746.4 L1325.6,748.6 L1327.7,750.8 L1329.7,753.0 L1331.8,755.2 L1333.8,757.5 L1335.9,759.7 L1337.9,761.9 L1340.0,764.1 L1342.0,766.3 L1344.1,768.5 L1346.1,770.7 L1348.1,772.9 L1350.2,775.1 L1352.2,777.4 L1354.3,779.6 L1356.3,781.8 L1358.4,784.0 L1360.4,786.2 L1362.5,788.4 L1364.5,790.6 L1366.5,792.8 L1368.6,795.0 L1370.7,797.2 L1372.7,799.4 L1374.8,801.6 L1376.8,803.8 L1378.9,806.0 L1380.9,808.2 L1383.0,810.4 L1385.0,812.6 L1387.1,814.8 L1389.2,817.0 L1391.2,819.1 L1393.3,821.3 L1395.4,823.5 L1397.5,825.6 L1399.5,827.8 L1401.6,829.9 L1403.7,832.1 L1405.8,834.2 L1407.9,836.4 L1410.0,838.5 L1412.1,840.6 L1414.2,842.7 L1416.3,844.9 L1418.4,847.0 L1420.5,849.1 L1422.6,851.1 L1424.7,853.2 L1426.9,855.3 L1429.0,857.4 L1431.1,859.4 L1433.3,861.5 L1435.4,863.6 L1437.5,865.6 L1439.7,867.7 L1441.8,869.7 L1444.0,871.7 L1446.2,873.8 L1448.3,875.8 L1450.5,877.8 L1452.7,879.8 L1454.9,881.9 L1457.1,883.9 L1459.3,885.9 L1461.5,887.9 L1463.7,889.9 L1466.0,892.0 L1468.2,894.0 L1470.4,896.0 L1472.7,898.0 L1474.9,900.0 L1477.2,902.0 L1479.5,904.0 L1481.7,906.0 L1484.0,907.9 L1486.3,909.9 L1488.6,911.8 L1490.9,913.7 L1493.3,915.6 L1495.6,917.5 L1497.9,919.4 L1500.3,921.2 L1502.6,923.0 L1505.0,924.8 L1507.4,926.6 L1509.8,928.3 L1512.2,930.0 L1514.6,931.7 L1517.0,933.3 L1519.4,934.9 L1521.9,936.5 L1524.3,938.1 L1526.8,939.7 L1529.3,941.3 L1531.7,942.8 L1534.2,944.4 L1536.7,945.9 L1539.2,947.5 L1541.8,949.0 L1544.3,950.6 L1546.8,952.2 L1549.4,953.8 L1552.0,955.4 L1554.5,956.9 L1557.1,958.5 L1559.7,960.1 L1562.3,961.6 L1564.9,963.2 L1567.6,964.7 L1570.2,966.2 L1572.9,967.7 L1575.5,969.1 L1578.2,970.5 L1580.9,971.9 L1583.6,973.3 L1586.3,974.6 L1589.0,975.9 L1591.7,977.2 L1594.4,978.4 L1597.2,979.6 L1599.9,980.7 L1602.7,981.9 L1605.4,983.0 L1608.2,984.0 L1611.0,985.1 L1613.8,986.1 L1616.6,987.1 L1619.4,988.0 L1622.2,989.0 L1625.1,989.9 L1627.9,990.8 L1630.7,991.7 L1633.6,992.5 L1636.5,993.3 L1639.3,994.2 L1642.2,995.0 L1645.1,995.7 L1648.0,996.5 L1650.8,997.2 L1653.7,998.0 L1656.7,998.7 L1659.6,999.4 L1662.5,1000.1 L1665.4,1000.8 L1668.3,1001.5 L1671.3,1002.1 L1674.2,1002.7 L1677.1,1003.4 L1680.1,1004.0 L1683.0,1004.5 L1686.0,1005.1 L1688.9,1005.6 L1691.9,1006.2 L1694.9,1006.7 L1697.8,1007.1 L1700.8,1007.6 L1703.8,1008.0 L1706.8,1008.5 L1709.7,1008.8 L1712.7,1009.2 L1715.7,1009.5 L1718.7,1009.9 L1721.7,1010.1 L1724.7,1010.4 L1727.7,1010.6 L1730.7,1010.8 L1733.7,1011.0 L1736.7,1011.1 L1739.7,1011.2 L1742.7,1011.2 L1745.7,1011.2 L1748.7,1011.2 L1751.7,1011.1 L1754.7,1011.0 L1757.7,1010.9 L1760.7,1010.7 L1763.7,1010.5 L1766.7,1010.3 L1769.7,1010.1 L1772.7,1009.8 L1775.7,1009.6 L1778.7,1009.4 L1781.7,1009.1 L1784.6,1008.9 L1787.6,1008.7 L1790.6,1008.5 L1793.6,1008.3 L1796.6,1008.2 L1799.6,1008.1 L1802.5,1008.0 L1805.5,1008.0 L1808.5,1008.1" fill="none" stroke="#f73aa5" stroke-width="2.9" stroke-linejoin="round" stroke-dasharray="20,6,6,6"/>
<path d="M378.0,1266.0 L381.0,1265.9 L384.0,1265.8 L386.9,1265.8 L389.8,1265.8 L392.8,1265.8 L395.7,1265.9 L398.6,1265.9 L401.6,1266.0 L404.6,1266.0 L407.6,1266.0 L410.7,1266.0 L413.8,1265.9 L416.9,1265.8 L420.1,1265.6 L423.2,1265.3 L426.4,1264.9 L429.5,1264.5 L432.6,1263.9 L435.6,1263.2 L438.6,1262.4 L441.4,1261.5 L444.2,1260.4 L446.8,1259.2 L449.4,1257.8 L451.8,1256.3 L454.1,1254.6 L456.4,1252.8 L458.5,1250.9 L460.5,1248.9 L462.5,1246.7 L464.4,1244.5 L466.2,1242.2 L467.9,1239.9 L469.6,1237.4 L471.2,1234.9 L472.8,1232.4 L474.3,1229.8 L475.8,1227.2 L477.3,1224.5 L478.7,1221.9 L480.0,1219.2 L481.4,1216.5 L482.7,1213.8 L484.0,1211.1 L485.3,1208.4 L486.5,1205.7 L487.8,1203.0 L489.0,1200.2 L490.1,1197.5 L491.3,1194.7 L492.4,1191.9 L493.5,1189.1 L494.6,1186.3 L495.6,1183.5 L496.7,1180.7 L497.7,1177.9 L498.7,1175.1 L499.7,1172.2 L500.6,1169.4 L501.6,1166.5 L502.5,1163.7 L503.4,1160.8 L504.3,1157.9 L505.2,1155.1 L506.0,1152.2 L506.9,1149.3 L507.7,1146.4 L508.5,1143.5 L509.4,1140.6 L510.2,1137.7 L510.9,1134.8 L511.7,1131.9 L512.5,1129.0 L513.3,1126.1 L514.0,1123.2 L514.7,1120.2 L515.5,1117.3 L516.2,1114.4 L516.9,1111.5 L517.7,1108.5 L518.4,1105.6 L519.1,1102.7 L519.8,1099.8 L520.5,1096.8 L521.2,1093.9 L521.9,1091.0 L522.6,1088.1 L523.3,1085.1 L524.0,1082.2 L524.6,1079.3 L525.3,1076.3 L526.0,1073.4 L526.7,1070.5 L527.3,1067.6 L528.0,1064.6 L528.7,1061.7 L529.3,1058.8 L530.0,1055.8 L530.6,1052.9 L531.3,1050.0 L531.9,1047.0 L532.5,1044.1 L533.2,1041.2 L533.8,1038.3 L534.4,1035.3 L535.1,1032.4 L535.7,1029.5 L536.3,1026.5 L536.9,1023.6 L537.6,1020.7 L538.2,1017.7 L538.8,1014.8 L539.4,1011.9 L540.0,1008.9 L540.6,1006.0 L541.2,1003.0 L541.8,1000.1 L542.4,997.2 L543.0,994.2 L543.6,991.3 L544.2,988.4 L544.8,985.4 L545.4,982.5 L545.9,979.6 L546.5,976.6 L547.1,973.7 L547.7,970.7 L548.3,967.8 L548.8,964.9 L549.4,961.9 L550.0,959.0 L550.5,956.0 L551.1,953.1 L551.7,950.2 L552.2,947.2 L552.8,944.3 L553.4,941.3 L553.9,938.4 L554.5,935.5 L555.0,932.5 L555.6,929.6 L556.1,926.6 L556.7,923.7 L557.2,920.7 L557.8,917.8 L558.3,914.9 L558.9,911.9 L559.4,909.0 L559.9,906.0 L560.5,903.1 L561.0,900.1 L561.6,897.2 L562.1,894.3 L562.6,891.3 L563.2,888.4 L563.7,885.4 L564.2,882.5 L564.8,879.5 L565.3,876.6 L565.8,873.6 L566.4,870.7 L566.9,867.7 L567.4,864.8 L568.0,861.8 L568.5,858.9 L569.0,855.9 L569.6,853.0 L570.1,850.0 L570.6,847.1 L571.1,844.1 L571.7,841.2 L572.2,838.2 L572.7,835.3 L573.3,832.3 L573.8,829.4 L574.3,826.4 L574.8,823.5 L575.4,820.5 L575.9,817.6 L576.4,814.6 L576.9,811.7 L577.5,808.7 L578.0,805.8 L578.5,802.8 L579.1,799.8 L579.6,796.9 L580.1,793.9 L580.6,791.0 L581.2,788.0 L581.7,785.1 L582.2,782.1 L582.8,779.2 L583.3,776.2 L583.8,773.2 L584.4,770.3 L584.9,767.3 L585.4,764.4 L586.0,761.4 L586.5,758.5 L587.1,755.5 L587.6,752.5 L588.1,749.6 L588.7,746.6 L589.2,743.7 L589.8,740.7 L590.3,737.7 L590.9,734.8 L591.4,731.8 L592.0,728.9 L592.5,725.9 L593.1,722.9 L593.6,720.0 L594.2,717.0 L594.7,714.1 L595.3,711.1 L595.8,708.1 L596.4,705.2 L597.0,702.2 L597.5,699.3 L598.1,696.3 L598.7,693.4 L599.2,690.4 L599.8,687.4 L600.4,684.5 L601.0,681.5 L601.6,678.6 L602.1,675.6 L602.7,672.7 L603.3,669.7 L603.9,666.8 L604.5,663.8 L605.1,660.9 L605.7,657.9 L606.3,655.0 L606.9,652.0 L607.5,649.1 L608.1,646.1 L608.7,643.2 L609.3,640.2 L609.9,637.3 L610.5,634.3 L611.1,631.4 L611.8,628.4 L612.4,625.5 L613.0,622.6 L613.7,619.6 L614.3,616.7 L614.9,613.7 L615.6,610.8 L616.2,607.9 L616.9,604.9 L617.5,602.0 L618.2,599.1 L618.8,596.1 L619.5,593.2 L620.1,590.3 L620.8,587.4 L621.4,584.4 L622.1,581.5 L622.8,578.6 L623.5,575.7 L624.1,572.7 L624.8,569.8 L625.5,566.9 L626.2,564.0 L626.8,561.1 L627.5,558.2 L628.2,555.3 L628.9,552.4 L629.6,549.4 L630.3,546.5 L631.0,543.6 L631.7,540.7 L632.3,537.8 L633.0,534.9 L633.7,532.0 L634.4,529.1 L635.1,526.2 L635.8,523.4 L636.5,520.5 L637.2,517.6 L637.9,514.7 L638.6,511.8 L639.3,508.9 L640.1,506.1 L640.8,503.2 L641.5,500.3 L642.3,497.4 L643.0,494.6 L643.8,491.7 L644.6,488.8 L645.4,486.0 L646.2,483.1 L647.0,480.2 L647.9,477.4 L648.8,474.5 L649.7,471.7 L650.6,468.8 L651.5,466.0 L652.5,463.1 L653.4,460.3 L654.4,457.4 L655.4,454.6 L656.5,451.8 L657.5,449.0 L658.6,446.1 L659.7,443.3 L660.7,440.5 L661.9,437.7 L663.0,434.9 L664.1,432.1 L665.3,429.3 L666.5,426.5 L667.7,423.7 L668.9,421.0 L670.1,418.2 L671.3,415.4 L672.6,412.7 L673.9,409.9 L675.1,407.2 L676.4,404.5 L677.7,401.7 L679.1,399.0 L680.4,396.3 L681.7,393.6 L683.1,390.9 L684.5,388.2 L685.9,385.5 L687.3,382.8 L688.7,380.2 L690.2,377.6 L691.7,375.0 L693.2,372.4 L694.8,369.9 L696.5,367.3 L698.1,364.9 L699.9,362.5 L701.7,360.1 L703.6,357.7 L705.5,355.5 L707.6,353.3 L709.7,351.1 L711.9,349.0 L714.2,347.0 L716.5,345.1 L718.9,343.3 L721.4,341.6 L723.9,340.0 L726.5,338.6 L729.2,337.3 L731.8,336.2 L734.6,335.3 L737.3,334.6 L740.1,334.1 L742.9,333.8 L745.7,333.7 L748.6,333.9 L751.4,334.2 L754.3,334.8 L757.1,335.5 L759.9,336.4 L762.8,337.5 L765.6,338.7 L768.3,340.0 L771.1,341.5 L773.8,343.0 L776.5,344.6 L779.1,346.3 L781.7,348.0 L784.2,349.8 L786.7,351.6 L789.1,353.5 L791.5,355.4 L793.8,357.3 L796.1,359.3 L798.4,361.2 L800.6,363.2 L802.8,365.2 L805.0,367.3 L807.1,369.3 L809.3,371.4 L811.4,373.4 L813.5,375.5 L815.6,377.6 L817.7,379.7 L819.9,381.8 L822.0,383.9 L824.1,386.0 L826.3,388.0 L828.4,390.1 L830.6,392.2 L832.8,394.3 L835.0,396.3 L837.1,398.4 L839.4,400.4 L841.6,402.5 L843.8,404.5 L846.0,406.5 L848.3,408.6 L850.5,410.6 L852.7,412.6 L855.0,414.6 L857.3,416.6 L859.6,418.5 L861.8,420.5 L864.1,422.5 L866.4,424.4 L868.7,426.4 L871.0,428.3 L873.3,430.2 L875.6,432.1 L878.0,434.0 L880.3,435.9 L882.6,437.8 L884.9,439.7 L887.3,441.6 L889.6,443.5 L892.0,445.3 L894.3,447.2 L896.7,449.0 L899.0,450.9 L901.4,452.8 L903.7,454.6 L906.1,456.4 L908.5,458.3 L910.8,460.1 L913.2,462.0 L915.6,463.8 L917.9,465.6 L920.3,467.5 L922.7,469.3 L925.0,471.1 L927.4,472.9 L929.8,474.8 L932.1,476.6 L934.5,478.4 L936.9,480.3 L939.2,482.1 L941.6,484.0 L943.9,485.8 L946.3,487.6 L948.7,489.5 L951.0,491.3 L953.4,493.2 L955.7,495.1 L958.1,496.9 L960.4,498.8 L962.7,500.6 L965.1,502.5 L967.4,504.4 L969.8,506.3 L972.1,508.1 L974.4,510.0 L976.8,511.9 L979.1,513.8 L981.4,515.7 L983.8,517.5 L986.1,519.4 L988.4,521.3 L990.8,523.2 L993.1,525.1 L995.4,527.0 L997.7,528.9 L1000.1,530.8 L1002.4,532.7 L1004.7,534.6 L1007.0,536.5 L1009.3,538.4 L1011.6,540.3 L1014.0,542.2 L1016.3,544.2 L1018.6,546.1 L1020.9,548.0 L1023.2,549.9 L1025.5,551.8 L1027.8,553.7 L1030.1,555.7 L1032.4,557.6 L1034.7,559.5 L1037.1,561.4 L1039.4,563.3 L1041.7,565.3 L1044.0,567.2 L1046.3,569.1 L1048.6,571.1 L1050.9,573.0 L1053.2,574.9 L1055.5,576.8 L1057.8,578.8 L1060.1,580.7 L1062.4,582.6 L1064.7,584.6 L1067.0,586.5 L1069.3,588.4 L1071.6,590.4 L1073.9,592.3 L1076.2,594.2 L1078.5,596.1 L1080.8,598.1 L1083.1,600.0 L1085.4,601.9 L1087.7,603.9 L1090.0,605.8 L1092.3,607.7 L1094.6,609.7 L1096.9,611.6 L1099.2,613.5 L1101.5,615.5 L1103.8,617.4 L1106.1,619.3 L1108.4,621.3 L1110.7,623.2 L1113.0,625.1 L1115.3,627.0 L1117.6,629.0 L1119.9,630.9 L1122.2,632.8 L1124.5,634.8 L1126.8,636.7 L1129.1,638.6 L1131.4,640.6 L1133.7,642.5 L1136.0,644.4 L1138.3,646.3 L1140.6,648.3 L1142.9,650.2 L1145.2,652.1 L1147.5,654.1 L1149.8,656.0 L1152.1,658.0 L1154.3,659.9 L1156.6,661.8 L1158.9,663.8 L1161.2,665.7 L1163.5,667.6 L1165.8,669.6 L1168.1,671.5 L1170.4,673.5 L1172.6,675.4 L1174.9,677.4 L1177.2,679.3 L1179.5,681.3 L1181.8,683.2 L1184.0,685.2 L1186.3,687.1 L1188.6,689.1 L1190.9,691.0 L1193.1,693.0 L1195.4,695.0 L1197.6,696.9 L1199.9,698.9 L1202.2,700.8 L1204.4,702.8 L1206.7,704.8 L1208.9,706.8 L1211.2,708.7 L1213.4,710.7 L1215.7,712.7 L1217.9,714.7 L1220.2,716.7 L1222.4,718.7 L1224.7,720.6 L1226.9,722.6 L1229.1,724.6 L1231.3,726.6 L1233.6,728.6 L1235.8,730.6 L1238.0,732.6 L1240.2,734.7 L1242.5,736.7 L1244.7,738.7 L1246.9,740.7 L1249.1,742.7 L1251.3,744.7 L1253.5,746.8 L1255.7,748.8 L1257.9,750.8 L1260.1,752.8 L1262.3,754.9 L1264.5,756.9 L1266.7,758.9 L1268.9,761.0 L1271.1,763.0 L1273.3,765.1 L1275.5,767.1 L1277.6,769.2 L1279.8,771.2 L1282.0,773.3 L1284.2,775.3 L1286.4,777.4 L1288.5,779.4 L1290.7,781.5 L1292.9,783.5 L1295.1,785.6 L1297.2,787.7 L1299.4,789.7 L1301.6,791.8 L1303.8,793.9 L1305.9,795.9 L1308.1,798.0 L1310.2,800.1 L1312.4,802.2 L1314.6,804.2 L1316.7,806.3 L1318.9,808.4 L1321.1,810.5 L1323.2,812.6 L1325.4,814.6 L1327.5,816.7 L1329.7,818.8 L1331.8,820.9 L1334.0,823.0 L1336.2,825.1 L1338.3,827.2 L1340.5,829.3 L1342.6,831.3 L1344.8,833.4 L1346.9,835.5 L1349.1,837.6 L1351.2,839.7 L1353.4,841.8 L1355.5,843.9 L1357.7,846.0 L1359.9,848.1 L1362.0,850.2 L1364.2,852.3 L1366.3,854.4 L1368.5,856.5 L1370.6,858.6 L1372.8,860.7 L1374.9,862.8 L1377.1,864.9 L1379.3,867.0 L1381.4,869.1 L1383.6,871.2 L1385.7,873.3 L1387.9,875.4 L1390.1,877.4 L1392.3,879.5 L1394.4,881.6 L1396.6,883.7 L1398.8,885.7 L1401.0,887.8 L1403.2,889.8 L1405.4,891.9 L1407.6,893.9 L1409.8,896.0 L1412.0,898.0 L1414.2,900.0 L1416.5,902.0 L1418.7,904.0 L1420.9,906.0 L1423.2,908.0 L1425.4,910.0 L1427.7,912.0 L1429.9,914.0 L1432.2,915.9 L1434.5,917.9 L1436.7,919.8 L1439.0,921.7 L1441.3,923.7 L1443.6,925.6 L1445.9,927.5 L1448.3,929.4 L1450.6,931.2 L1452.9,933.1 L1455.3,934.9 L1457.6,936.8 L1460.0,938.6 L1462.4,940.4 L1464.8,942.2 L1467.2,944.0 L1469.6,945.7 L1472.0,947.5 L1474.4,949.2 L1476.8,951.0 L1479.3,952.7 L1481.7,954.4 L1484.2,956.0 L1486.7,957.7 L1489.2,959.3 L1491.7,961.0 L1494.2,962.6 L1496.7,964.2 L1499.3,965.8 L1501.8,967.4 L1504.4,968.9 L1506.9,970.5 L1509.5,972.0 L1512.1,973.5 L1514.7,975.0 L1517.3,976.5 L1519.9,978.0 L1522.5,979.4 L1525.1,980.9 L1527.7,982.3 L1530.4,983.7 L1533.0,985.1 L1535.7,986.5 L1538.4,987.9 L1541.0,989.3 L1543.7,990.6 L1546.4,992.0 L1549.1,993.3 L1551.8,994.6 L1554.5,995.9 L1557.2,997.2 L1560.0,998.5 L1562.7,999.8 L1565.4,1001.0 L1568.2,1002.3 L1570.9,1003.5 L1573.7,1004.8 L1576.4,1006.0 L1579.2,1007.2 L1582.0,1008.4 L1584.7,1009.6 L1587.5,1010.7 L1590.3,1011.9 L1593.1,1013.0 L1595.9,1014.2 L1598.7,1015.3 L1601.5,1016.4 L1604.3,1017.6 L1607.1,1018.7 L1609.9,1019.8 L1612.8,1020.8 L1615.6,1021.9 L1618.4,1023.0 L1621.2,1024.0 L1624.1,1025.0 L1626.9,1026.1 L1629.8,1027.1 L1632.6,1028.0 L1635.5,1029.0 L1638.3,1029.9 L1641.2,1030.8 L1644.0,1031.7 L1646.9,1032.6 L1649.8,1033.5 L1652.6,1034.3 L1655.5,1035.1 L1658.4,1035.8 L1661.3,1036.6 L1664.2,1037.3 L1667.1,1038.0 L1669.9,1038.7 L1672.8,1039.3 L1675.7,1040.0 L1678.6,1040.6 L1681.6,1041.3 L1684.5,1042.0 L1687.4,1042.6 L1690.3,1043.2 L1693.2,1043.9 L1696.1,1044.5 L1699.1,1045.1 L1702.0,1045.7 L1704.9,1046.2 L1707.9,1046.8 L1710.8,1047.3 L1713.7,1047.8 L1716.7,1048.3 L1719.6,1048.8 L1722.6,1049.3 L1725.5,1049.7 L1728.5,1050.1 L1731.5,1050.4 L1734.4,1050.8 L1737.4,1051.1 L1740.4,1051.4 L1743.3,1051.7 L1746.3,1051.9 L1749.3,1052.1 L1752.3,1052.3 L1755.3,1052.5 L1758.2,1052.6 L1761.2,1052.7 L1764.2,1052.8 L1767.2,1052.8 L1770.2,1052.8 L1773.2,1052.8 L1776.2,1052.8 L1779.2,1052.7 L1782.2,1052.6 L1785.2,1052.5 L1788.3,1052.3 L1791.3,1052.1 L1794.3,1051.9 L1797.3,1051.7 L1800.3,1051.4 L1803.4,1051.1 L1806.4,1050.8 L1809.4,1050.4" fill="none" stroke="#0000a8" stroke-width="3.0" stroke-linejoin="round"/>
<rect x="201.5" y="60.0" width="1794.0" height="1333.5" fill="none" stroke="#000" stroke-width="5"/>
<line x1="201.50" y1="1393.5" x2="201.50" y2="1365.5" stroke="#000" stroke-width="5"/>
<line x1="291.20" y1="1393.5" x2="291.20" y2="1378.5" stroke="#000" stroke-width="5"/>
<line x1="380.90" y1="1393.5" x2="380.90" y2="1365.5" stroke="#000" stroke-width="5"/>
<line x1="470.60" y1="1393.5" x2="470.60" y2="1378.5" stroke="#000" stroke-width="5"/>
<line x1="560.30" y1="1393.5" x2="560.30" y2="1365.5" stroke="#000" stroke-width="5"/>
<line x1="650.00" y1="1393.5" x2="650.00" y2="1378.5" stroke="#000" stroke-width="5"/>
<line x1="739.70" y1="1393.5" x2="739.70" y2="1365.5" stroke="#000" stroke-width="5"/>
<line x1="829.40" y1="1393.5" x2="829.40" y2="1378.5" stroke="#000" stroke-width="5"/>
<line x1="919.10" y1="1393.5" x2="919.10" y2="1365.5" stroke="#000" stroke-width="5"/>
<line x1="1008.80" y1="1393.5" x2="1008.80" y2="1378.5" stroke="#000" stroke-width="5"/>
<line x1="1098.50" y1="1393.5" x2="1098.50" y2="1365.5" stroke="#000" stroke-width="5"/>
<line x1="1188.20" y1="1393.5" x2="1188.20" y2="1378.5" stroke="#000" stroke-width="5"/>
<line x1="1277.90" y1="1393.5" x2="1277.90" y2="1365.5" stroke="#000" stroke-width="5"/>
<line x1="1367.60" y1="1393.5" x2="1367.60" y2="1378.5" stroke="#000" stroke-width="5"/>
<line x1="1457.30" y1="1393.5" x2="1457.30" y2="1365.5" stroke="#000" stroke-width="5"/>
<line x1="1547.00" y1="1393.5" x2="1547.00" y2="1378.5" stroke="#000" stroke-width="5"/>
<line x1="1636.70" y1="1393.5" x2="1636.70" y2="1365.5" stroke="#000" stroke-width="5"/>
<line x1="1726.40" y1="1393.5" x2="1726.40" y2="1378.5" stroke="#000" stroke-width="5"/>
<line x1="1816.10" y1="1393.5" x2="1816.10" y2="1365.5" stroke="#000" stroke-width="5"/>
<line x1="1905.80" y1="1393.5" x2="1905.80" y2="1378.5" stroke="#000" stroke-width="5"/>
<line x1="1995.50" y1="1393.5" x2="1995.50" y2="1365.5" stroke="#000" stroke-width="5"/>
<text x="201.50" y="1482" text-anchor="middle" font-size="81.5">50</text>
<text x="380.90" y="1482" text-anchor="middle" font-size="81.5">100</text>
<text x="560.30" y="1482" text-anchor="middle" font-size="81.5">150</text>
<text x="739.70" y="1482" text-anchor="middle" font-size="81.5">200</text>
<text x="919.10" y="1482" text-anchor="middle" font-size="81.5">250</text>
<text x="1098.50" y="1482" text-anchor="middle" font-size="81.5">300</text>
<text x="1277.90" y="1482" text-anchor="middle" font-size="81.5">350</text>
<text x="1457.30" y="1482" text-anchor="middle" font-size="81.5">400</text>
<text x="1636.70" y="1482" text-anchor="middle" font-size="81.5">450</text>
<text x="1816.10" y="1482" text-anchor="middle" font-size="81.5">500</text>
<text x="1995.50" y="1482" text-anchor="middle" font-size="81.5">550</text>
<text x="1098" y="1597" text-anchor="middle" font-size="80.8">Temperature (°C)</text>
<text transform="translate(101,674.7) rotate(-90) scale(1,1.03)" text-anchor="middle" font-size="97">TCD signal</text>
<line x1="1298" y1="181.5" x2="1488" y2="181.5" stroke="#0000a8" stroke-width="3.8"/>
<text x="1505" y="208" font-size="82">E-cat</text>
<line x1="1298" y1="283" x2="1488" y2="283" stroke="#ff00ff" stroke-width="4.2" stroke-dasharray="19.5,13"/>
<text x="1505" y="309.5" font-size="82">CAT-CD</text>
<line x1="1298" y1="384" x2="1488" y2="384" stroke="#f73aa5" stroke-width="4.6" stroke-dasharray="22,6,8,6"/>
<text x="1505" y="411" font-size="82">CAT-MM2</text>
<line x1="1298" y1="484.5" x2="1488" y2="484.5" stroke="#008c00" stroke-width="4.2" stroke-dasharray="19,4,8,5,8,6"/>
<text x="1505" y="511" font-size="82">CAT-MM1</text></svg>
</body></html>
